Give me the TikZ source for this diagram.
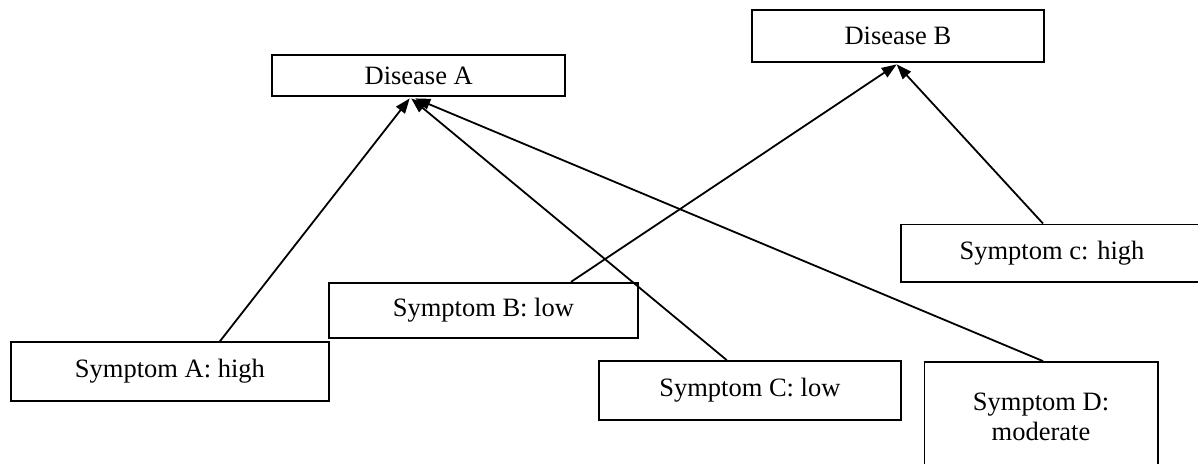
\documentclass[tikz,border=0pt]{standalone}
\usepackage{fontspec}
\setmainfont{Liberation Serif}
\usetikzlibrary{arrows.meta}
\begin{document}
\begin{tikzpicture}[x=1pt,y=-1pt,
  box/.style={draw,line width=1.8pt,inner sep=0pt,font=\fontsize{26.5}{30}\selectfont,align=center,anchor=center},
  link/.style={line width=1.8pt,-{Triangle[length=15pt,width=11pt]}}]
\useasboundingbox (0,0) rectangle (1198,463);
\fill[white] (0,0) rectangle (1198,463);
\node[box,minimum width=292.7pt,minimum height=41pt] (dA) at (418.7,75.5) {Disease A};
\node[box,minimum width=292.3pt,minimum height=52pt] (dB) at (897.9,36) {Disease B};
\node[box,minimum width=318.3pt,minimum height=58.6pt] (sA) at (169.9,371.5) {Symptom A: high};
\node[box,minimum width=308.7pt,minimum height=55.5pt] (sB) at (483.4,310.5) {Symptom B: low};
\node[box,minimum width=301.7pt,minimum height=59pt] (sC) at (749.9,390.5) {Symptom C: low};
\node[box,minimum width=302.6pt,minimum height=57.5pt] (sc) at (1052,253.2) {Symptom c: high};
\node[box,minimum width=233.2pt,minimum height=110pt] (sD) at (1041,417) {Symptom D:\\moderate};
\coordinate (tA) at ([xshift=-9pt,yshift=-1.5pt]dA.south);
\coordinate (tC) at ([xshift=-7.5pt,yshift=-1.5pt]dA.south);
\coordinate (tD) at ([xshift=-3.5pt,yshift=-1.5pt]dA.south);
\coordinate (tB) at ([xshift=-1.2pt,yshift=-1.5pt]dB.south);
\draw[link] ([xshift=50pt]sA.north) -- (tA);
\draw[link] ([xshift=-23.2pt]sC.north) -- (tC);
\draw[link] ([xshift=2pt]sD.north) -- (tD);
\draw[link] ([xshift=87.6pt]sB.north) -- (tB);
\draw[link] ([xshift=-9pt]sc.north) -- (tB);
\end{tikzpicture}
\end{document}
